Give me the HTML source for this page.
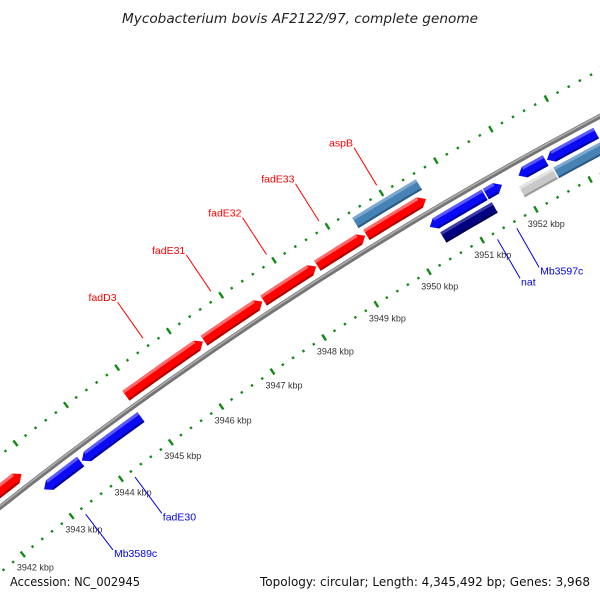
<!DOCTYPE html>
<html><head><meta charset="utf-8"><style>
html,body{margin:0;padding:0;background:#fff;overflow:hidden}
svg{display:block}
text{font-family:"Liberation Sans","DejaVu Sans",sans-serif}
.dv{font-family:"DejaVu Sans","Liberation Sans",sans-serif}
</style></head><body>
<svg id="map" width="600" height="600" viewBox="0 0 600 600" xmlns="http://www.w3.org/2000/svg">
<rect width="600" height="600" fill="#fff"/>
<g id="ticks"></g>
<g id="backbone"></g>
<g id="genes"></g>
<g id="labels"></g>
<text class="dv" x="122" y="23" textLength="356" lengthAdjust="spacingAndGlyphs" font-size="13" font-style="italic" fill="#222">Mycobacterium bovis AF2122/97, complete genome</text>
<text class="dv" x="10" y="586" textLength="130" lengthAdjust="spacingAndGlyphs" font-size="12" fill="#111">Accession: NC_002945</text>
<text class="dv" x="260" y="586" textLength="330" lengthAdjust="spacingAndGlyphs" font-size="12" fill="#111">Topology: circular; Length: 4,345,492 bp; Genes: 3,968</text>
</svg>
<script>
// ---- data (kbp) ----
const geneStart = [3941.3, 3944.84, 3946.36, 3947.50, 3948.52, 3949.44, 3949.39, 3942.90, 3943.66, 3950.37, 3951.41, 3952.01, 3952.53, 3953.50, 3950.47, 3951.93, 3952.56];
const geneEnd   = [3942.79, 3946.36, 3947.50, 3948.52, 3949.44, 3950.57, 3950.59, 3943.66, 3944.86, 3951.41, 3951.73, 3952.53, 3953.45, 3955.0, 3951.45, 3952.56, 3955.0];
const geneDir   = [1, 1, 1, 1, 1, 1, 0, -1, -1, -1, 1, -1, -1, -1, 0, 0, 0];
const geneRow   = [1, 1, 1, 1, 1, 1, 2, -1, -1, -1, -1, -1, -1, -1, -2, -2, -2];
const geneType  = ['red','red','red','red','red','red','steel','blue','blue','blue','blue','blue','blue','blue','navy','gray','steel'];
const labelText = ['fadD3','fadE31','fadE32','fadE33','aspB','fadE30','Mb3589c','nat','Mb3597c'];
const labelPos  = [3945.6, 3946.9, 3947.95, 3948.93, 3950.0, 3944.2, 3943.2, 3951.22, 3951.58];
const labelSide = [1, 1, 1, 1, 1, -1, -1, -1, -1];
const tickStart = 3940, tickEnd = 3956;
const tickLabels = [3940,3941,3942,3943,3944,3945,3946,3947,3948,3949,3950,3951,3952];

// ---- geometry ----
const CX = 2436, CY = 3590, R0 = 3929, A0 = -2.0988, K = 0.01596;
function ang(p){ return A0 + (p - 3951) * K; }
function pt(p, r){ const a = ang(p); return [CX + r*Math.cos(a), CY + r*Math.sin(a)]; }
const NS = 'http://www.w3.org/2000/svg';
function mk(tag, attrs, parent){ const e = document.createElementNS(NS, tag); for (const k in attrs) e.setAttribute(k, attrs[k]); parent.appendChild(e); return e; }
const palette = {
  red:  ['#ff0000','#ff6a6a','#b00000'],
  blue: ['#0a0af5','#5a5aff','#00009a'],
  navy: ['#000080','#3a3aa8','#000050'],
  steel:['#4682b4','#7aa8d0','#2c5a82'],
  gray: ['#c8c8c8','#e4e4e4','#9a9a9a']
};
const rowR = {1: R0+13, 2: R0+29, '-1': R0-13, '-2': R0-29};

// backbone
const bb = document.getElementById('backbone');
function arcPath(r, p1, p2){ const a = pt(p1, r), b = pt(p2, r); return `M${a[0]},${a[1]} A${r},${r} 0 0 1 ${b[0]},${b[1]}`; }
let e1 = mk('path', {d: arcPath(R0, 3938, 3957), stroke:'#757575', 'stroke-width':5, fill:'none'}, bb);


let e2 = mk('path', {d: arcPath(R0+1, 3938, 3957), stroke:'#b0b0b0', 'stroke-width':1.5, fill:'none'}, bb);



// ticks
const tg = document.getElementById('ticks');
const ringR = [R0+41, R0-51];
for (let ri = 0; ri < 2; ri++) {
  const r = ringR[ri];
  for (let i = 0; i <= (tickEnd - tickStart) * 5; i++) {
    const p = tickStart + i * 0.2;
    const major = (i % 5 === 0);
    const L = major ? 3.5 : 1.2;
    const a = pt(p, r - L), b = pt(p, r + L);
    const t = mk('line', {x1:a[0], y1:a[1], x2:b[0], y2:b[1], stroke:'#138a13', 'stroke-width':2.4}, tg);
    
    
  }
}
tickLabels.forEach(v => {
  const c = pt(v, R0-68);
  if (c[1] > 570 || c[0] > 580) return;
  const t = mk('text', {x:c[0]+2, y:c[1]+3, 'text-anchor':'middle', 'font-size':9, fill:'#333'}, tg);
  t.textContent = v + ' kbp';
  
  
});

// genes
const gg = document.getElementById('genes');
const PX = 1 / (R0 * K);
function bandPoly(s, e, r1, r2){ const pts = []; const n = 8;
  for (let i=0;i<=n;i++) pts.push(pt(s+(e-s)*i/n, r2));
  for (let i=n;i>=0;i--) pts.push(pt(s+(e-s)*i/n, r1));
  return pts; }
for (let i = 0; i < geneStart.length; i++) {
  const s = geneStart[i] + 0.012, e = geneEnd[i] - 0.012, d = geneDir[i];
  const rc = rowR[geneRow[i]], h = 6, hl = 7 * PX;
  const col = palette[geneType[i]];
  const bs = d === -1 ? s + hl : s, be = d === 1 ? e - hl : e;
  const n = 8, pts = [];
  for (let j=0;j<=n;j++) pts.push(pt(bs+(be-bs)*j/n, rc+h));
  if (d === 1) pts.push(pt(e, rc));
  for (let j=n;j>=0;j--) pts.push(pt(bs+(be-bs)*j/n, rc-h));
  if (d === -1) pts.push(pt(s, rc));
  const g = mk('g', {}, gg);
  
  
  mk('polygon', {points: pts.map(q=>q.join(',')).join(' '), fill: col[0]}, g);
  mk('polygon', {points: bandPoly(bs, be, rc+h-3, rc+h).map(q=>q.join(',')).join(' '), fill: col[1]}, g);
  mk('polygon', {points: bandPoly(bs, be, rc-h, rc-h+2).map(q=>q.join(',')).join(' '), fill: col[2]}, g);
}

// labels
const lg = document.getElementById('labels');
for (let i = 0; i < labelText.length; i++) {
  const side = labelSide[i], col = side === 1 ? '#ff0000' : '#0000ee';
  const a = side === 1 ? pt(labelPos[i], R0+50) : pt(labelPos[i], R0-58);
  const b = side === 1 ? pt(labelPos[i], R0+94) : pt(labelPos[i], R0-103);
  const ln = mk('line', {x1:a[0], y1:a[1], x2:b[0], y2:b[1], stroke: col, 'stroke-width':1}, lg);
  
  
  const t = side === 1
    ? mk('text', {x:b[0]-1, y:b[1]-1, 'text-anchor':'end', 'font-size':10.5, fill: col}, lg)
    : mk('text', {x:b[0]+1, y:b[1]+7, 'text-anchor':'start', 'font-size':10.5, fill: col}, lg);
  t.textContent = labelText[i];
  
  
}
</script>
</body></html>
